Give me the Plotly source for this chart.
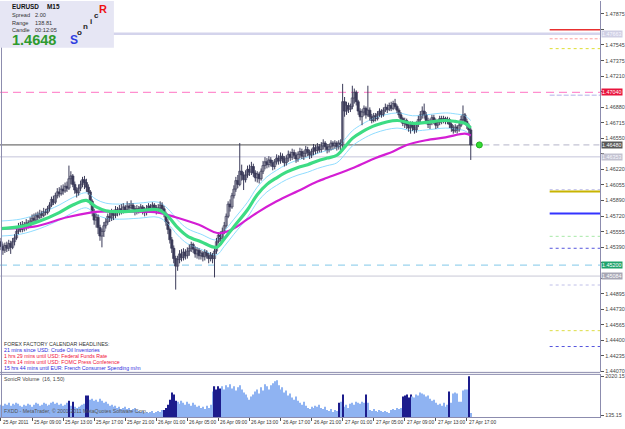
import plotly.graph_objects as go

W, H = 625, 429

# ---------------- data (EURUSD M15) ----------------
first_open = 1.4545
closes = [
 1.4540,1.4536,1.4541,1.4538,1.4543,1.4539,1.4545,1.4549,1.4556,1.4561,
 1.4558,1.4563,1.4560,1.4565,1.4562,1.4567,1.4570,1.4568,1.4573,1.4571,
 1.4575,1.4573,1.4577,1.4576,1.4580,1.4584,1.4590,1.4587,1.4594,1.4598,
 1.4596,1.4601,1.4599,1.4604,1.4602,1.4612,1.4615,1.4606,1.4600,1.4597,
 1.4602,1.4606,1.4611,1.4608,1.4603,1.4598,1.4588,1.4576,1.4568,1.4571,
 1.4560,1.4551,1.4556,1.4562,1.4566,1.4572,1.4570,1.4576,1.4573,1.4579,
 1.4576,1.4580,1.4578,1.4582,1.4579,1.4583,1.4581,1.4584,1.4580,1.4577,
 1.4580,1.4578,1.4582,1.4579,1.4576,1.4580,1.4583,1.4580,1.4584,1.4581,
 1.4578,1.4581,1.4584,1.4580,1.4575,1.4566,1.4558,1.4547,1.4538,1.4527,
 1.4519,1.4526,1.4532,1.4528,1.4534,1.4530,1.4535,1.4538,1.4542,1.4537,
 1.4532,1.4536,1.4530,1.4533,1.4529,1.4534,1.4530,1.4527,1.4531,1.4527,
 1.4535,1.4545,1.4552,1.4548,1.4556,1.4562,1.4572,1.4585,1.4582,1.4594,
 1.4601,1.4610,1.4606,1.4620,1.4616,1.4611,1.4616,1.4622,1.4619,1.4625,
 1.4618,1.4613,1.4617,1.4612,1.4620,1.4626,1.4630,1.4627,1.4632,1.4629,
 1.4625,1.4630,1.4634,1.4631,1.4636,1.4633,1.4629,1.4634,1.4638,1.4635,
 1.4640,1.4637,1.4633,1.4638,1.4641,1.4636,1.4639,1.4643,1.4640,1.4637,
 1.4641,1.4645,1.4642,1.4646,1.4643,1.4647,1.4650,1.4646,1.4643,1.4646,
 1.4650,1.4647,1.4650,1.4646,1.4650,1.4648,1.4694,1.4684,1.4690,1.4686,
 1.4689,1.4698,1.4704,1.4694,1.4684,1.4678,1.4683,1.4687,1.4680,1.4685,
 1.4678,1.4674,1.4679,1.4676,1.4681,1.4684,1.4680,1.4685,1.4688,1.4686,
 1.4690,1.4687,1.4692,1.4689,1.4685,1.4680,1.4676,1.4671,1.4674,1.4669,
 1.4666,1.4670,1.4667,1.4664,1.4670,1.4675,1.4680,1.4684,1.4680,1.4674,
 1.4670,1.4673,1.4677,1.4673,1.4669,1.4672,1.4676,1.4673,1.4676,1.4673,
 1.4675,1.4670,1.4666,1.4663,1.4667,1.4664,1.4669,1.4675,1.4680,1.4673,
 1.4669,1.4664,1.4648]
highs = [
 1.4549,1.4543,1.4544,1.4545,1.4547,1.4546,1.4549,1.4553,1.4560,1.4565,
 1.4566,1.4567,1.4566,1.4569,1.4568,1.4571,1.4574,1.4575,1.4576,1.4577,
 1.4579,1.4578,1.4581,1.4580,1.4583,1.4587,1.4593,1.4594,1.4597,1.4602,
 1.4603,1.4605,1.4606,1.4608,1.4609,1.4626,1.4620,1.4617,1.4609,1.4603,
 1.4606,1.4610,1.4614,1.4615,1.4612,1.4606,1.4600,1.4590,1.4580,1.4575,
 1.4574,1.4563,1.4559,1.4566,1.4570,1.4575,1.4577,1.4580,1.4579,1.4583,
 1.4582,1.4584,1.4585,1.4586,1.4584,1.4588,1.4586,1.4589,1.4586,1.4583,
 1.4584,1.4583,1.4585,1.4584,1.4582,1.4584,1.4586,1.4585,1.4587,1.4586,
 1.4584,1.4585,1.4588,1.4587,1.4583,1.4577,1.4569,1.4560,1.4550,1.4541,
 1.4530,1.4530,1.4536,1.4537,1.4538,1.4537,1.4539,1.4542,1.4545,1.4544,
 1.4540,1.4539,1.4538,1.4536,1.4535,1.4537,1.4536,1.4533,1.4534,1.4533,
 1.4538,1.4549,1.4555,1.4556,1.4560,1.4566,1.4575,1.4588,1.4590,1.4597,
 1.4605,1.4614,1.4616,1.4650,1.4627,1.4619,1.4621,1.4626,1.4627,1.4630,
 1.4628,1.4621,1.4620,1.4619,1.4623,1.4631,1.4635,1.4634,1.4636,1.4635,
 1.4632,1.4633,1.4638,1.4637,1.4640,1.4639,1.4636,1.4637,1.4642,1.4641,
 1.4644,1.4643,1.4640,1.4641,1.4645,1.4644,1.4642,1.4647,1.4646,1.4643,
 1.4644,1.4649,1.4648,1.4650,1.4649,1.4651,1.4654,1.4652,1.4649,1.4649,
 1.4653,1.4652,1.4653,1.4652,1.4653,1.4654,1.4713,1.4699,1.4694,1.4693,
 1.4692,1.4711,1.4708,1.4706,1.4696,1.4687,1.4686,1.4690,1.4689,1.4711,
 1.4688,1.4681,1.4682,1.4682,1.4684,1.4687,1.4686,1.4688,1.4692,1.4691,
 1.4693,1.4694,1.4695,1.4697,1.4691,1.4687,1.4683,1.4678,1.4677,1.4676,
 1.4672,1.4673,1.4673,1.4670,1.4673,1.4679,1.4684,1.4689,1.4692,1.4683,
 1.4677,1.4676,1.4680,1.4680,1.4676,1.4675,1.4679,1.4679,1.4679,1.4678,
 1.4678,1.4677,1.4672,1.4669,1.4670,1.4669,1.4672,1.4679,1.4690,1.4682,
 1.4676,1.4671,1.4666]
lows = [
 1.4536,1.4531,1.4533,1.4534,1.4535,1.4532,1.4537,1.4541,1.4547,1.4553,
 1.4555,1.4555,1.4556,1.4557,1.4559,1.4560,1.4563,1.4565,1.4566,1.4568,
 1.4569,1.4570,1.4571,1.4573,1.4574,1.4577,1.4582,1.4584,1.4585,1.4591,
 1.4592,1.4594,1.4595,1.4597,1.4598,1.4600,1.4606,1.4603,1.4596,1.4592,
 1.4594,1.4599,1.4603,1.4601,1.4598,1.4595,1.4584,1.4572,1.4563,1.4560,
 1.4553,1.4546,1.4539,1.4550,1.4559,1.4563,1.4566,1.4567,1.4568,1.4570,
 1.4572,1.4573,1.4574,1.4575,1.4576,1.4577,1.4578,1.4579,1.4577,1.4573,
 1.4574,1.4575,1.4576,1.4574,1.4572,1.4573,1.4577,1.4576,1.4578,1.4577,
 1.4574,1.4575,1.4578,1.4577,1.4571,1.4562,1.4553,1.4543,1.4533,1.4522,
 1.4494,1.4514,1.4522,1.4524,1.4525,1.4526,1.4527,1.4530,1.4534,1.4533,
 1.4528,1.4527,1.4526,1.4526,1.4524,1.4525,1.4527,1.4522,1.4524,1.4522,
 1.4507,1.4532,1.4543,1.4545,1.4546,1.4553,1.4560,1.4570,1.4577,1.4580,
 1.4591,1.4598,1.4602,1.4604,1.4610,1.4600,1.4608,1.4613,1.4615,1.4616,
 1.4614,1.4609,1.4608,1.4607,1.4610,1.4617,1.4622,1.4623,1.4624,1.4625,
 1.4621,1.4622,1.4627,1.4627,1.4628,1.4629,1.4625,1.4626,1.4630,1.4631,
 1.4632,1.4633,1.4629,1.4630,1.4634,1.4633,1.4632,1.4635,1.4636,1.4633,
 1.4634,1.4637,1.4638,1.4639,1.4640,1.4640,1.4643,1.4642,1.4639,1.4640,
 1.4642,1.4643,1.4644,1.4642,1.4643,1.4639,1.4644,1.4678,1.4680,1.4682,
 1.4683,1.4686,1.4692,1.4690,1.4680,1.4674,1.4669,1.4679,1.4676,1.4678,
 1.4674,1.4671,1.4672,1.4673,1.4674,1.4678,1.4677,1.4678,1.4683,1.4682,
 1.4684,1.4684,1.4685,1.4686,1.4682,1.4677,1.4672,1.4668,1.4666,1.4665,
 1.4662,1.4660,1.4663,1.4660,1.4661,1.4667,1.4672,1.4676,1.4676,1.4670,
 1.4666,1.4665,1.4669,1.4670,1.4665,1.4666,1.4669,1.4670,1.4671,1.4670,
 1.4670,1.4666,1.4662,1.4660,1.4661,1.4660,1.4662,1.4667,1.4673,1.4670,
 1.4665,1.4660,1.4632]
volumes = [
 635,585,685,635,735,585,685,635,735,685,
 585,535,635,585,685,635,535,635,735,685,
 585,635,735,685,585,635,735,785,685,735,
 635,685,585,635,735,835,585,785,535,485,
 535,585,635,685,1085,1085,885,935,835,885,
 785,935,835,735,785,685,585,635,535,585,
 485,535,435,485,535,435,485,385,435,485,
 385,335,285,335,235,285,235,285,335,235,
 285,335,285,385,385,485,635,885,1235,1135,
 835,785,685,835,735,635,785,685,585,735,
 635,535,585,485,535,435,585,485,635,1285,
 1535,1385,1535,1435,1535,1385,1585,1485,1635,1435,
 1535,1335,1485,1585,1385,1235,1135,985,885,1035,
 1135,1285,1385,1185,1485,1335,1635,1535,1385,1585,
 1685,1785,1835,1585,1385,1485,1235,1335,1085,1185,
 985,885,1035,835,735,635,785,585,485,435,
 535,485,585,535,635,485,435,535,385,335,
 435,285,385,335,735,785,1135,535,635,485,
 685,735,635,785,735,685,785,735,1135,735,
 385,335,435,335,285,385,335,285,335,285,
 235,385,435,385,485,435,485,1035,1085,1135,
 985,1135,1035,985,1135,1085,1235,1185,1135,1035,
 1085,935,835,885,735,635,685,585,735,535,
 635,1285,735,1185,1235,1185,785,785,1335,1385,
 1385,2020.15,235]
climax_bars = [35, 37, 44, 45, 84, 85, 86, 87, 88, 89, 90, 110, 111, 112, 113,
               174, 176, 188, 207, 208, 209, 210, 211, 231, 241]

# moving averages, sampled along the bars
green_idx = [0, 10, 20, 30, 37, 44, 49, 54, 61, 71, 81, 86, 91, 96, 103, 111, 115, 120,
             127, 132, 137, 142, 147, 153, 158, 163, 168, 173, 178, 181, 186, 193, 204,
             212, 219, 229, 234, 239, 242]
green_ma = [1.4559, 1.4561, 1.4567, 1.4576, 1.4584, 1.4589, 1.4582, 1.4578, 1.4577, 1.4578,
            1.4579, 1.4572, 1.4560, 1.4551, 1.4545, 1.4539, 1.4548, 1.4561, 1.4579, 1.4595,
            1.4606, 1.4613, 1.4619, 1.4624, 1.4627, 1.4631, 1.4634, 1.4637, 1.4648, 1.4655,
            1.4662, 1.4669, 1.4674, 1.4671, 1.4672, 1.4674, 1.4673, 1.4671, 1.4666]
magenta_idx = [0, 17, 34, 46, 51, 68, 81, 90, 102, 112, 119, 127, 132, 142, 153, 163, 168,
               182, 193, 202, 209, 219, 229, 239, 242]
magenta_ma = [1.4559, 1.4561, 1.4571, 1.4576, 1.4577, 1.4577, 1.4576, 1.4571, 1.4563, 1.4554,
              1.4558, 1.4569, 1.4576, 1.4588, 1.4599, 1.4609, 1.4613, 1.4624, 1.4634, 1.4641,
              1.4648, 1.4653, 1.4656, 1.4660, 1.4658]
envelope_pct = 0.00055

price_ticks = [1.44070, 1.44235, 1.44400, 1.44565, 1.44730, 1.44895, 1.45060, 1.45225,
               1.45390, 1.45555, 1.45720, 1.45890, 1.46055, 1.46220, 1.46385, 1.46550,
               1.46715, 1.46880, 1.47045, 1.47210, 1.47375, 1.47545, 1.47710, 1.47875]
vol_ticks = [135.15, 2020.15]

time_label_idx = [0, 16, 32, 48, 64, 80, 96, 112, 128, 144, 160, 176, 192, 208, 224, 240]
time_labels = ["25 Apr 2011", "25 Apr 09:00", "25 Apr 13:00", "25 Apr 17:00", "25 Apr 21:00",
               "26 Apr 01:00", "26 Apr 05:00", "26 Apr 09:00", "26 Apr 13:00", "26 Apr 17:00",
               "26 Apr 21:00", "27 Apr 01:00", "27 Apr 05:00", "27 Apr 09:00", "27 Apr 13:00",
               "27 Apr 17:00"]

# horizontal levels (pivot / range lines)
full_levels = [1.47663, 1.47040, 1.46353, 1.45200, 1.45084]
short_levels = [1.47705, 1.47610, 1.47505, 1.47008, 1.46004, 1.45983, 1.45750,
                1.45507, 1.45380, 1.44989, 1.44503, 1.44334]
axis_tags = [1.47663, 1.47040, 1.46353, 1.45200, 1.45084]

headlines = ["FOREX FACTORY CALENDAR HEADLINES:",
             "21 mins since USD: Crude Oil Inventories",
             "1 hrs 29 mins until USD: Federal Funds Rate",
             "3 hrs 14 mins until USD: FOMC Press Conference",
             "15 hrs 44 mins until EUR: French Consumer Spending m/m"]

# ---------------- styles / layout helpers ----------------
FONT = "Liberation Sans"
AXIS_C = "#8c8cae"
CANDLE_C = "#3a3a58"
BAR_PX = 1.96
TICK_FS = 5.4


def px(x):
    return x / W


def py(y):
    return 1 - y / H


def idx_at(xpix):
    return (xpix - 1) / BAR_PX


n = len(closes)
assert len(highs) == n and len(lows) == n and len(volumes) == n, (len(highs), len(lows), len(volumes))
idx = list(range(n))
opens = [first_open] + closes[:-1]

x_lo, x_hi = idx_at(0), idx_at(606)
y_lo, y_hi = 1.48012 - 374 * 0.0001057, 1.48012

fig = go.Figure()

# envelopes
fig.add_trace(go.Scatter(x=green_idx, y=[v * (1 + envelope_pct) for v in green_ma], mode="lines",
                         line=dict(color="#8fdcff", width=1, shape="spline"), hoverinfo="skip"))
fig.add_trace(go.Scatter(x=green_idx, y=[v * (1 - envelope_pct) for v in green_ma], mode="lines",
                         line=dict(color="#8fdcff", width=1, shape="spline"), hoverinfo="skip"))

# candles: wicks + bodies
wx, wy = [], []
for i in idx:
    wx += [i, i, None]
    wy += [lows[i], highs[i], None]
fig.add_trace(go.Scatter(x=wx, y=wy, mode="lines", line=dict(color=CANDLE_C, width=1),
                         hoverinfo="skip"))
body_base = [min(o, c) for o, c in zip(opens, closes)]
body_h = [max(abs(c - o), 0.00005) for o, c in zip(opens, closes)]
body_fill = ["#ffffff" if c > o else CANDLE_C for o, c in zip(opens, closes)]
fig.add_trace(go.Bar(x=idx, y=body_h, base=body_base, width=1.15,
                     marker=dict(color=body_fill, line=dict(color=CANDLE_C, width=0.7)),
                     xaxis="x", yaxis="y", hoverinfo="skip"))

fig.add_trace(go.Scatter(x=magenta_idx, y=magenta_ma, mode="lines",
                         line=dict(color="#d41ed4", width=2.2, shape="spline"), hoverinfo="skip"))
fig.add_trace(go.Scatter(x=green_idx, y=green_ma, mode="lines",
                         line=dict(color="#3ddc84", width=3.2, shape="spline"), hoverinfo="skip"))

# green price dot
fig.add_trace(go.Scatter(x=[idx_at(484)], y=[closes[-1]], mode="markers",
                         marker=dict(color="#33dd33", size=6, line=dict(color="#22aa22", width=1)),
                         hoverinfo="skip"))

# volume
vol_colors = ["#1c1c8c" if i in climax_bars else "#8fb3f2" for i in idx]
fig.add_trace(go.Bar(x=idx, y=volumes, marker=dict(color=vol_colors, line=dict(width=0)),
                     width=0.6, xaxis="x", yaxis="y2", hoverinfo="skip"))

shapes = []
# info box
shapes.append(dict(type="rect", xref="paper", yref="paper", x0=0, x1=px(115), y0=py(47), y1=1,
                   fillcolor="#e6e6f4", line=dict(width=0), layer="above"))

full_styles = [("#d4d4ec", 2.5, "solid"), ("#ff8fcf", 1.3, "8px,5px"), ("#c4c4da", 1, "solid"),
               ("#9ad4ee", 1.3, "7px,6px"), ("#c8c8d6", 1, "solid")]
for lv, (c, w, d) in zip(full_levels, full_styles):
    shapes.append(dict(type="line", xref="x", yref="y", x0=x_lo, x1=x_hi, y0=lv, y1=lv,
                       line=dict(color=c, width=w, dash=d), layer="below"))

short_styles = [("#e83030", 1.5, "solid"), ("#ff9f9f", 1, "3px,2px"), ("#dede33", 1, "dot"),
                ("#ccccf0", 1.6, "5px,2px"), ("#c0c0e8", 1, "dot"), ("#c8b400", 2, "solid"),
                ("#3333ff", 2.2, "solid"), ("#a8e8a8", 1, "dot"), ("#5555dd", 1, "dot"),
                ("#c0c0e8", 1, "dot"), ("#dddd44", 1, "dot"), ("#5555dd", 1, "dot")]
x_short = idx_at(555)
for lv, (c, w, d) in zip(short_levels, short_styles):
    shapes.append(dict(type="line", xref="x", yref="y", x0=x_short, x1=x_hi, y0=lv, y1=lv,
                       line=dict(color=c, width=w, dash=d), layer="below"))

# bid line
bid = closes[-1]
shapes.append(dict(type="line", xref="x", yref="y", x0=x_lo, x1=idx_at(478), y0=bid, y1=bid,
                   line=dict(color="#505050", width=1), layer="below"))
shapes.append(dict(type="line", xref="x", yref="y", x0=idx_at(478), x1=x_hi, y0=bid, y1=bid,
                   line=dict(color="#b4b4c8", width=1, dash="6px,4px"), layer="below"))

# panel frame lines
for yy in (374, 376):
    shapes.append(dict(type="line", xref="paper", yref="paper", x0=0, x1=px(606), y0=py(yy), y1=py(yy),
                       line=dict(color=AXIS_C, width=1)))
shapes.append(dict(type="line", xref="paper", yref="paper", x0=px(1.5), x1=px(1.5), y0=py(419), y1=py(47),
                   line=dict(color=AXIS_C, width=1)))

ann = []


def text(x, y, s, size=6, color="#3a3a3a", bold=False, anchor="left"):
    ann.append(dict(xref="paper", yref="paper", x=px(x), y=py(y),
                    text=("<b>%s</b>" % s) if bold else s,
                    showarrow=False, xanchor=anchor, yanchor="middle", borderpad=0,
                    font=dict(family=FONT, size=size, color=color)))


# info box texts
text(11, 6, "EURUSD", 6.4, "#111111", True)
text(46, 6, "M15", 6.4, "#111111", True)
text(11, 14.5, "Spread", 5.6, "#333333")
text(34, 14.5, "2.00", 5.6, "#333333")
text(11, 22, "Range", 5.6, "#333333")
text(34, 22, "138.81", 5.6, "#333333")
text(11, 29.5, "Candle", 5.6, "#333333")
text(34, 29.5, "00:12:05", 5.6, "#333333")
text(11, 39.5, "%.4f" % closes[-1], 14.5, "#2e9a2e", True)
text(75, 39, "S", 12, "#2e3ee0", True, "center")
text(80, 32, "o", 8, "#222222", True, "center")
text(86, 26, "n", 8, "#222222", True, "center")
text(92, 20.5, "i", 8, "#222222", True, "center")
text(97, 15, "c", 8, "#222222", True, "center")
text(104, 8, "R", 11, "#ee1111", True, "center")

# headlines
hl_colors = ["#333333", "#2b2bdd", "#f0103a", "#f0103a", "#2b2bdd"]
for k, (s, c) in enumerate(zip(headlines, hl_colors)):
    text(3, 345 + 6.2 * k, s, 5.2, c)

text(3, 380.5, "SonicR Volume  (16, 1.50)", 5.2, "#444444")
text(3, 413, "FXDD - MetaTrader, \u00a9 2001-2011 MetaQuotes Software Corp.", 5.2, "#555555")

# time labels
for i, s in zip(time_label_idx, time_labels):
    ann.append(dict(xref="x", yref="paper", x=i, y=py(424.5), text=s, showarrow=False,
                    xanchor="left", yanchor="middle", xshift=1, borderpad=0,
                    font=dict(family=FONT, size=4.8, color="#333333")))

# axis tags
bid_tag = bid
tag_styles = [("#cfcfe4", "#f8f8ff"), ("#e8143c", "#ffffff"), ("#c2c2d0", "#f8f8ff"),
              ("#1fa36c", "#ffffff"), ("#a6a6b4", "#ffffff"), ("#585858", "#ffffff")]
tags = axis_tags + [bid_tag]
for lv, (bg, fc) in zip(tags, tag_styles):
    ann.append(dict(xref="paper", yref="y", x=px(607), y=lv, text="%.5f" % lv, showarrow=False,
                    xanchor="left", yanchor="middle", bgcolor=bg, borderpad=0,
                    font=dict(family=FONT, size=TICK_FS, color=fc)))

# tick labels hidden beneath the opaque tags
tick_text = ["" if any(abs(t - g) < 0.0006 for g in tags) else "%.5f" % t for t in price_ticks]

fig.update_layout(
    width=W, height=H, margin=dict(l=0, r=0, t=0, b=0),
    paper_bgcolor="white", plot_bgcolor="white", showlegend=False,
    shapes=shapes, annotations=ann, barmode="overlay",
    xaxis=dict(domain=[0, px(606)], range=[x_lo, x_hi], anchor="y2", showgrid=False, zeroline=False,
               showline=True, linecolor=AXIS_C, ticks="outside", ticklen=3, tickcolor="#555555",
               tickvals=time_label_idx, showticklabels=False),
    yaxis=dict(domain=[py(374), 1], range=[y_lo, y_hi], side="right", anchor="x", showgrid=False,
               zeroline=False, showline=True, linecolor=AXIS_C, ticks="outside", ticklen=3,
               tickcolor="#555555", tickvals=price_ticks, ticktext=tick_text,
               tickfont=dict(family=FONT, size=TICK_FS, color="#444444")),
    yaxis2=dict(domain=[py(419), py(376)], range=[38.5, 2116.8], side="right", anchor="x",
                showgrid=False, zeroline=False, showline=True, linecolor=AXIS_C, ticks="outside",
                ticklen=3, tickcolor="#555555", tickvals=vol_ticks,
                ticktext=["%.2f" % t for t in vol_ticks],
                tickfont=dict(family=FONT, size=TICK_FS, color="#444444")),
)

fig.write_html("out.html")
